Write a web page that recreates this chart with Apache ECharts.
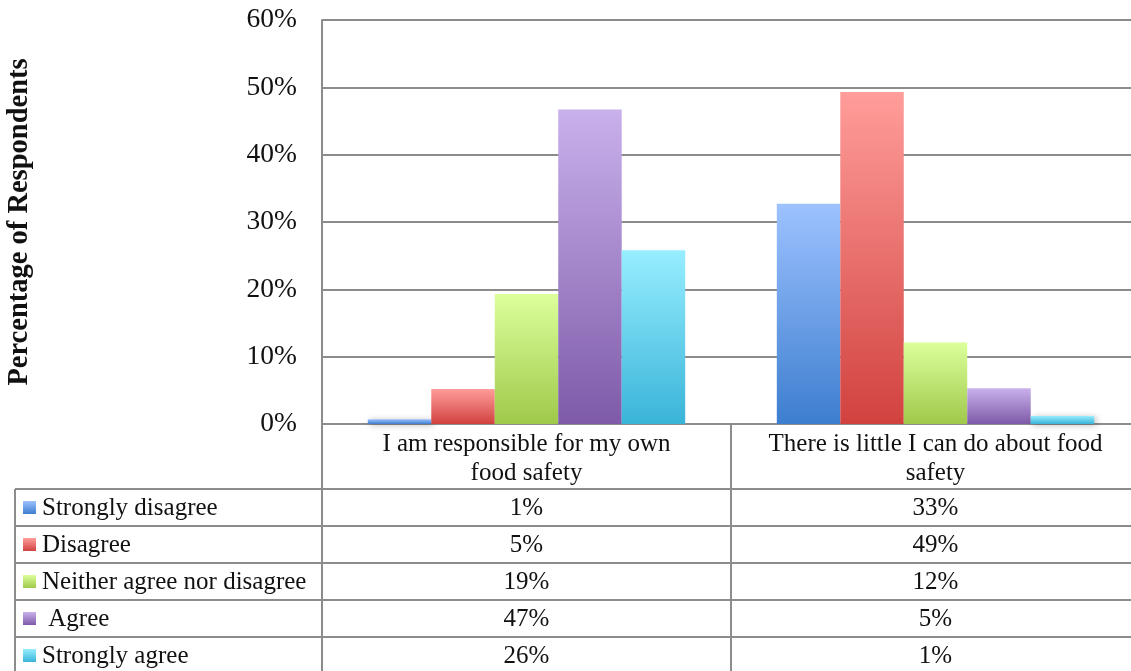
<!DOCTYPE html>
<html>
<head>
<meta charset="utf-8">
<script src="https://cdn.jsdelivr.net/npm/echarts@6/dist/echarts.min.js"></script>
<style>
  html, body { margin: 0; padding: 0; background: #fff; }
  #chart { width: 1131px; height: 671px; }
</style>
</head>
<body>
<div id="chart"></div>
<script>
// Survey statements (category axis) and response shares in percent
const categories = ['I am responsible for my own\nfood safety', 'There is little I can do about food\nsafety'];
const seriesNames = ['Strongly disagree', 'Disagree', 'Neither agree nor disagree', ' Agree', 'Strongly agree'];
const stronglyDisagree = [0.7, 32.7];
const disagree = [5.2, 49.3];
const neither = [19.3, 12.1];
const agree = [46.7, 5.3];
const stronglyAgree = [25.8, 1.2];
const yTicks = [0, 10, 20, 30, 40, 50, 60];

const seriesValues = [stronglyDisagree, disagree, neither, agree, stronglyAgree];
// light top / dark bottom of each bar's vertical gradient
const palette = [
  ['#9dc2ff', '#3d7ecf'],
  ['#ff9d9a', '#d1423f'],
  ['#dcff9b', '#9fc94a'],
  ['#c9b1ec', '#7e5aa8'],
  ['#97eeff', '#3ab4d9']
];

const FONT = '"Liberation Serif", "Times New Roman", serif';
const LINE = '#8c8c8c';

function grad(i) {
  return new echarts.graphic.LinearGradient(0, 0, 0, 1, [
    { offset: 0, color: palette[i][0] },
    { offset: 1, color: palette[i][1] }
  ]);
}

const chart = echarts.init(document.getElementById('chart'));

// plot area runs past the right edge of the page
const GRID = { left: 322, top: 20, width: 818, height: 404 };

chart.setOption({
  animation: false,
  backgroundColor: '#ffffff',
  grid: Object.assign({ outerBoundsMode: 'none', containLabel: false }, GRID),
  xAxis: {
    type: 'category',
    data: categories,
    axisTick: { show: false },
    axisLine: { show: true, lineStyle: { color: LINE, width: 2 } },
    axisLabel: {
      interval: 0,
      margin: 6,
      fontFamily: FONT,
      fontSize: 25,
      lineHeight: 29,
      color: '#111'
    }
  },
  yAxis: {
    type: 'value',
    min: yTicks[0],
    max: yTicks[yTicks.length - 1],
    interval: 10,
    name: 'Percentage of Respondents',
    nameLocation: 'middle',
    nameRotate: 90,
    nameGap: 288,
    nameTextStyle: { fontFamily: FONT, fontSize: 28.5, fontWeight: 'bold', color: '#111' },
    axisLine: { show: true, lineStyle: { color: LINE, width: 2 } },
    axisTick: { show: false },
    axisLabel: {
      margin: 25,
      fontFamily: FONT,
      fontSize: 27.5,
      color: '#111',
      formatter: v => v + '%'
    },
    splitLine: { show: true, lineStyle: { color: LINE, width: 2 } }
  },
  series: seriesNames.map((name, i) => ({
    name: name,
    type: 'bar',
    data: seriesValues[i],
    barGap: '0%',
    barCategoryGap: '22.4%',
    itemStyle: {
      color: grad(i),
      shadowBlur: 6,
      shadowColor: 'rgba(0,0,0,0.28)',
      shadowOffsetX: 2,
      shadowOffsetY: 1
    }
  }))
});

// Data table beneath the plot: legend keys, rounded values, cell borders
function buildTable() {
  const W = 1131, H = 671;
  const axisY = GRID.top + GRID.height;
  const headerBottom = 489;
  const rowH = 37;
  const tableLeft = 15;
  const x0 = chart.convertToPixel({ xAxisIndex: 0 }, 0);
  const x1 = chart.convertToPixel({ xAxisIndex: 0 }, 1);
  const midX = (x0 + x1) / 2;
  const els = [];
  const line = (xa, ya, xb, yb) => els.push({
    type: 'line', shape: { x1: xa, y1: ya, x2: xb, y2: yb },
    style: { stroke: LINE, lineWidth: 2 }, z: 5
  });

  // horizontal borders
  for (let r = 0; r < seriesNames.length; r++) {
    line(tableLeft, headerBottom + r * rowH, W, headerBottom + r * rowH);
  }
  // vertical borders
  line(tableLeft, headerBottom, tableLeft, H);
  line(GRID.left, axisY, GRID.left, H);
  line(midX, axisY, midX, H);

  seriesNames.forEach((name, r) => {
    const cy = headerBottom + r * rowH + rowH / 2;
    els.push({
      type: 'rect', shape: { x: 23, y: cy - 6.5, width: 13, height: 13 },
      style: { fill: grad(r) }, z: 6
    });
    els.push({
      type: 'text', x: 42, y: cy + 1,
      style: { text: name, font: '25px ' + FONT, fill: '#111', verticalAlign: 'middle', textAlign: 'left' },
      z: 6
    });
    [x0, x1].forEach((cx, c) => {
      els.push({
        type: 'text', x: cx, y: cy + 1,
        style: { text: Math.round(seriesValues[r][c]) + '%', font: '25px ' + FONT, fill: '#111', verticalAlign: 'middle', textAlign: 'center' },
        z: 6
      });
    });
  });
  chart.setOption({ graphic: { elements: els } });
}
buildTable();
</script>
</body>
</html>
